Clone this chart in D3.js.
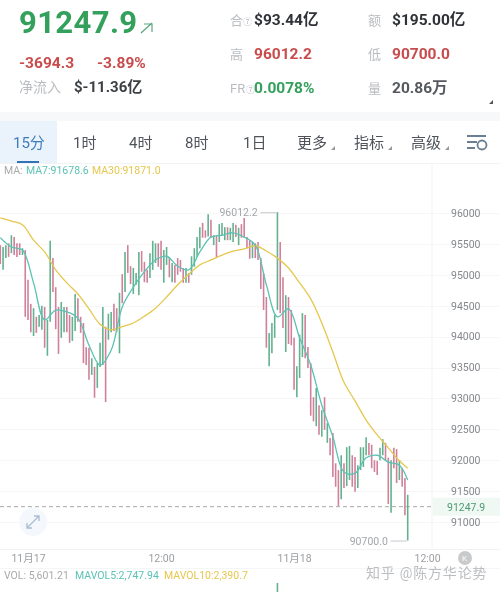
<!DOCTYPE html>
<html>
<head>
<meta charset="utf-8">
<script src="https://cdn.jsdelivr.net/npm/d3@7"></script>
<style>
  html, body { margin: 0; padding: 0; background: #fff; overflow: hidden; }
  svg { display: block; filter: blur(0.35px); }
  text { font-family: Roboto, "Noto Sans CJK SC", sans-serif; }
</style>
</head>
<body>
<div id="chart"></div>
<script>
// 15 min candles
var candleHigh = [
  95480, 95450, 95480, 95510, 95640, 95610, 95510, 95510, 95430, 95400,
  94920, 94530, 94460, 94320, 94350, 94500, 94480, 94270, 95550, 95270,
  94800, 94480, 94560, 94480, 94480, 94350, 94320, 94690, 94620, 94320,
  94220, 93830, 93820, 93650, 93510, 93570, 93900, 94480, 94160, 94370,
  94400, 94530, 94460, 94710, 95010, 95370, 95480, 95140, 95110, 95030,
  95370, 95385, 95210, 95080, 95350, 95550, 95510, 95510, 95550, 95400,
  95450, 95270, 95190, 95160, 95270, 95240, 95110, 95110, 95030, 95300,
  95430, 95610, 95770, 95840, 95720, 95980, 95890, 95640, 95640, 95820,
  95840, 95770, 95770, 95760, 95840, 95810, 95760, 95820, 95920, 95610,
  95560, 95530, 95510, 95530, 95270, 95030, 94640, 94060, 94220, 94350,
  96012, 95530, 94960, 94670, 94640, 94430, 93980, 93520, 94030, 94380,
  94350, 93830, 93570, 93020, 93170, 92890, 92810, 93020, 92600, 92360,
  92440, 91950, 91840, 92080, 91950, 92210, 92230, 92080, 92050, 91920,
  92210, 92210, 92370, 92280, 92250, 92000, 91990, 92200, 92340, 92280,
  92040, 92000, 92200, 92180, 92000, 91870, 91710, 91440
];
var candleLow = [
  95175, 95080, 95270, 95290, 95350, 95320, 95290, 95320, 95320, 94320,
  94270, 94070, 94010, 94060, 94160, 94110, 93820, 93690, 94240, 94720,
  94120, 93720, 93980, 94070, 94070, 93900, 93930, 94090, 94240, 94060,
  93570, 93540, 93300, 93380, 93010, 93170, 93510, 93540, 92940, 93950,
  94070, 94090, 94070, 93730, 94540, 94720, 95030, 94850, 94690, 94840,
  94670, 95050, 94880, 94870, 94950, 95080, 95190, 95130, 95080, 94870,
  95160, 94960, 94880, 94870, 95000, 95050, 94870, 94870, 94870, 95000,
  95130, 95290, 95430, 95600, 95600, 95620, 95600, 95480, 95270, 95530,
  95640, 95560, 95560, 95560, 95530, 95610, 95480, 95600, 95600, 95430,
  95260, 95270, 95270, 95240, 94770, 94430, 93820, 93520, 93730, 93980,
  94430, 94380, 94140, 93750, 93880, 93860, 93140, 93020, 93330, 93670,
  93650, 93490, 92720, 92630, 92550, 92410, 92380, 92490, 92280, 92080,
  91730, 91570, 91260, 91370, 91550, 91580, 91680, 91570, 91490, 91550,
  91840, 91890, 92080, 92080, 91870, 91810, 91760, 92000, 92080, 92000,
  91290, 91150, 91870, 91630, 91680, 91570, 91110, 90700
];
// 1 = green, 0 = red
var candleGreen = [
  0, 1, 1, 0, 1, 0, 0, 0, 1, 0,
  0, 0, 1, 0, 1, 1, 0, 1, 1, 0,
  0, 0, 1, 1, 0, 0, 1, 1, 0, 0,
  0, 0, 0, 1, 0, 1, 1, 1, 0, 1,
  1, 0, 0, 1, 0, 1, 0, 0, 1, 1,
  1, 0, 0, 0, 1, 1, 1, 0, 0, 1,
  1, 0, 1, 0, 0, 0, 0, 1, 0, 1,
  1, 1, 1, 0, 0, 1, 0, 1, 0, 1,
  1, 1, 0, 1, 1, 0, 1, 0, 0, 0,
  0, 1, 0, 0, 0, 0, 0, 1, 1, 1,
  1, 0, 0, 1, 0, 0, 0, 1, 1, 1,
  0, 0, 0, 0, 1, 0, 1, 0, 1, 0,
  0, 0, 0, 1, 0, 1, 1, 0, 0, 1,
  1, 1, 1, 0, 0, 0, 0, 1, 1, 0,
  0, 1, 0, 0, 1, 0, 0, 1
];

var maIndex = [
  0, 4, 8, 12, 16, 20, 24, 28, 32, 36, 40, 44, 48, 52, 56, 60, 64, 68, 72,
  76, 80, 84, 88, 92, 96, 100, 104, 108, 112, 116, 120, 124, 128, 132, 136, 140, 144, 147
];
var ma7 = [
  95600, 95450, 95400, 94870, 94270, 94430, 94400, 94300, 93860, 93540, 93780, 94480, 94800,
  95050, 95240, 95300, 95140, 95080, 95370, 95610, 95640, 95680, 95610, 95480, 94840, 94320,
  94450, 93980, 93540, 92890, 92380, 91810, 91790, 92040, 92080, 91970, 91920, 91678.6
];
var ma30 = [
  95920, 95870, 95810, 95560, 95370, 95080, 94870, 94690, 94450, 94200, 94110, 94160, 94220,
  94330, 94460, 94640, 94840, 95010, 95160, 95240, 95320, 95385, 95420, 95470, 95385, 95270,
  95110, 94870, 94610, 94220, 93750, 93260, 92960, 92650, 92410, 92200, 91990, 91871
];

var priceTicks = [96000, 95500, 95000, 94500, 94000, 93500, 93000, 92500, 92000, 91500, 91000];
var timeTicks = [10, 58, 106, 154];
var timeLabels = ["11月17", "12:00", "11月18", "12:00"];
var lastPrice = 91247.9;
var highPoint = { i: 100, v: 96012.2 };
var lowPoint = { i: 147, v: 90700.0 };
var volIndex = [100];
var volValue = [42000];

var tabs = ["15分", "1时", "4时", "8时", "1日", "更多", "指标", "高级"];
var tabX = [13, 73, 129, 185, 243, 297, 354, 411];

var GREEN = "#33a05c", RED = "#c94c4c", GREY = "#b9bcc0", DARK = "#3c4044";
var UP_COL = "#62b28f", DOWN_COL = "#d0809a";
var TEAL = "#5cc2b4", YELLOW = "#e6c74e";

var svg = d3.select("#chart").append("svg").attr("width", 500).attr("height", 592);

svg.append("rect").attr("width", 500).attr("height", 592).attr("fill", "#fff");

function label(x, y, txt, size, col, weight) {
  return svg.append("text").attr("x", x).attr("y", y).text(txt)
    .attr("font-size", size).attr("fill", col).attr("font-weight", weight || 400);
}

// header
label(19, 33, "91247.9", 31, GREEN, 700).attr("letter-spacing", 0.4);
svg.append("path").attr("d", "M141 33 L152 23 M144 24 L152 24 L152 32")
  .attr("fill", "none").attr("stroke", "#5aa77c").attr("stroke-width", 1.2);
label(19, 68, "-3694.3", 15.5, RED, 700);
label(97, 68, "-3.89%", 15.5, RED, 700);
label(19, 92, "净流入", 14, GREY);
label(74, 92, "$-11.36亿", 15, DARK, 700);

label(230, 25, "合", 13, GREY);
label(243, 25, "⑦", 9, GREY);
label(254, 25, "$93.44亿", 15.5, "#2f3236", 700);
label(368, 25, "额", 13, GREY);
label(392, 25, "$195.00亿", 15.5, "#2f3236", 700);
label(230, 59, "高", 13, GREY);
label(254, 59, "96012.2", 15.5, RED, 700);
label(368, 59, "低", 13, GREY);
label(392, 59, "90700.0", 15.5, RED, 700);
label(230, 93, "FR", 13, GREY);
label(246, 93, "⑦", 9, GREY);
label(254, 93, "0.0078%", 15.5, GREEN, 700);
label(368, 93, "量", 13, GREY);
label(392, 93, "20.86万", 15.5, "#55595e", 700);
svg.append("path").attr("d", "M489 104 L493 104 L493 100 Z").attr("fill", "#555");

// tab bar
svg.append("rect").attr("y", 112).attr("width", 500).attr("height", 9).attr("fill", "#f7f8f9");
svg.append("rect").attr("y", 121).attr("width", 57).attr("height", 42).attr("fill", "#eaf2fb");
svg.append("rect").attr("x", 17).attr("y", 161).attr("width", 22).attr("height", 3).attr("fill", "#3272b8");
svg.append("line").attr("x1", 0).attr("x2", 500).attr("y1", 163.5).attr("y2", 163.5).attr("stroke", "#f2f3f4");
tabs.forEach(function(t, i) {
  label(tabX[i], 148, t, 15, i === 0 ? "#3d7cba" : "#50545a");
  if (i > 4) {
    var tx = tabX[i] + 34;
    svg.append("path").attr("d", "M" + tx + " 150 L" + (tx + 4) + " 150 L" + (tx + 4) + " 146 Z").attr("fill", "#999");
  }
});
var gear = svg.append("g").attr("fill", "none").attr("stroke", "#6b7f93").attr("stroke-width", 1.8);
gear.append("path").attr("d", "M467 136 H486 M467 142 H477 M467 148 H475");
gear.append("circle").attr("cx", 482).attr("cy", 145).attr("r", 4.5);

// legends
label(4, 174, "MA:", 10.5, "#aaa");
label(26, 174, "MA7:91678.6", 10.5, TEAL);
label(92, 174, "MA30:91871.0", 10.5, YELLOW);

// scales
var x = d3.scaleLinear().domain([0, 147]).range([0.3, 407.7]);
var y = d3.scaleLinear().domain([96000, 91000]).range([213, 522]);

// grid
svg.append("g").selectAll("line").data(priceTicks).join("line")
  .attr("x1", 0).attr("x2", 500)
  .attr("y1", function(d) { return Math.round(y(d)) + 0.5; })
  .attr("y2", function(d) { return Math.round(y(d)) + 0.5; })
  .attr("stroke", "#f6f6f7");
svg.append("line").attr("x1", 432).attr("x2", 432).attr("y1", 164).attr("y2", 549).attr("stroke", "#f1f2f3");
svg.append("line").attr("x1", 0).attr("x2", 500).attr("y1", 549.5).attr("y2", 549.5).attr("stroke", "#f1f2f3");
svg.append("line").attr("x1", 0).attr("x2", 500).attr("y1", 568.5).attr("y2", 568.5).attr("stroke", "#f4f5f6");

// last price line
svg.append("line").attr("x1", 0).attr("x2", 432).attr("y1", y(lastPrice)).attr("y2", y(lastPrice))
  .attr("stroke", "#a9a9a9").attr("stroke-dasharray", "4 3");

// candles
svg.append("g").selectAll("line").data(candleHigh).join("line")
  .attr("x1", function(d, i) { return x(i); })
  .attr("x2", function(d, i) { return x(i); })
  .attr("y1", function(d) { return y(d); })
  .attr("y2", function(d, i) { return y(candleLow[i]); })
  .attr("stroke", function(d, i) { return candleGreen[i] ? UP_COL : DOWN_COL; })
  .attr("stroke-width", 1.6);

// moving averages
function drawMa(values, col) {
  var line = d3.line()
    .x(function(d, i) { return x(maIndex[i]); })
    .y(function(d) { return y(d); })
    .curve(d3.curveCatmullRom);
  svg.append("path").attr("d", line(values)).attr("fill", "none").attr("stroke", col).attr("stroke-width", 1.3);
}
drawMa(ma30, YELLOW);
drawMa(ma7, TEAL);

// price axis
var yAxis = svg.append("g").attr("transform", "translate(447,0)")
  .call(d3.axisRight(y).tickValues(priceTicks).tickSize(0).tickPadding(4).tickFormat(d3.format("d")));
yAxis.select(".domain").remove();
yAxis.selectAll("text").attr("font-size", 10.5).attr("fill", "#85888c").attr("font-family", null);

svg.append("rect").attr("x", 433).attr("y", y(lastPrice) - 9).attr("width", 67).attr("height", 18).attr("fill", "#f0f8f3");
label(447, y(lastPrice) + 4, "91247.9", 10.5, "#4d9a72");

// high / low markers
label(x(highPoint.i) - 58, y(highPoint.v) + 4, highPoint.v.toFixed(1), 10.5, "#a3a6aa");
svg.append("line").attr("x1", x(highPoint.i) - 17).attr("x2", x(highPoint.i) - 1)
  .attr("y1", y(highPoint.v) + 0.5).attr("y2", y(highPoint.v) + 0.5).attr("stroke", "#c5c7ca");
label(x(lowPoint.i) - 58, y(lowPoint.v) + 4, lowPoint.v.toFixed(1), 10.5, "#a3a6aa");
svg.append("line").attr("x1", x(lowPoint.i) - 17).attr("x2", x(lowPoint.i) - 1)
  .attr("y1", y(lowPoint.v) + 0.5).attr("y2", y(lowPoint.v) + 0.5).attr("stroke", "#c5c7ca");

// expand button
svg.append("circle").attr("cx", 33).attr("cy", 522).attr("r", 14).attr("fill", "#f4f8fc");
svg.append("path").attr("d", "M27 528 L39 516 M34 516 L39 516 L39 521 M27 523 L27 528 L32 528")
  .attr("fill", "none").attr("stroke", "#a9bcd4").attr("stroke-width", 1.3);

// time axis
var xAxis = svg.append("g").attr("transform", "translate(0,551)")
  .call(d3.axisBottom(x).tickValues(timeTicks).tickSize(0).tickPadding(4)
    .tickFormat(function(d, i) { return timeLabels[i]; }));
xAxis.select(".domain").remove();
xAxis.selectAll("text").attr("font-size", 10.5).attr("fill", "#9a9da1").attr("font-family", null);

// volume
label(4, 579, "VOL: 5,601.21", 10.5, "#aaa");
label(75, 579, "MAVOL5:2,747.94", 10.5, TEAL);
label(164, 579, "MAVOL10:2,390.7", 10.5, YELLOW);
var v = d3.scaleLinear().domain([0, 42000]).range([592, 583]);
svg.append("g").selectAll("rect").data(volValue).join("rect")
  .attr("x", function(d, i) { return x(volIndex[i]) - 0.8; })
  .attr("y", function(d) { return v(d); })
  .attr("width", 1.6)
  .attr("height", function(d) { return 592 - v(d); })
  .attr("fill", UP_COL);

// logo and watermark
svg.append("circle").attr("cx", 465).attr("cy", 558).attr("r", 7).attr("fill", "#c9cacc");
label(462, 561, "K", 8, "#fff");
label(366, 578, "知乎 @陈方华论势", 14, "#bcbec1").attr("letter-spacing", 0.8);
</script>
</body>
</html>
